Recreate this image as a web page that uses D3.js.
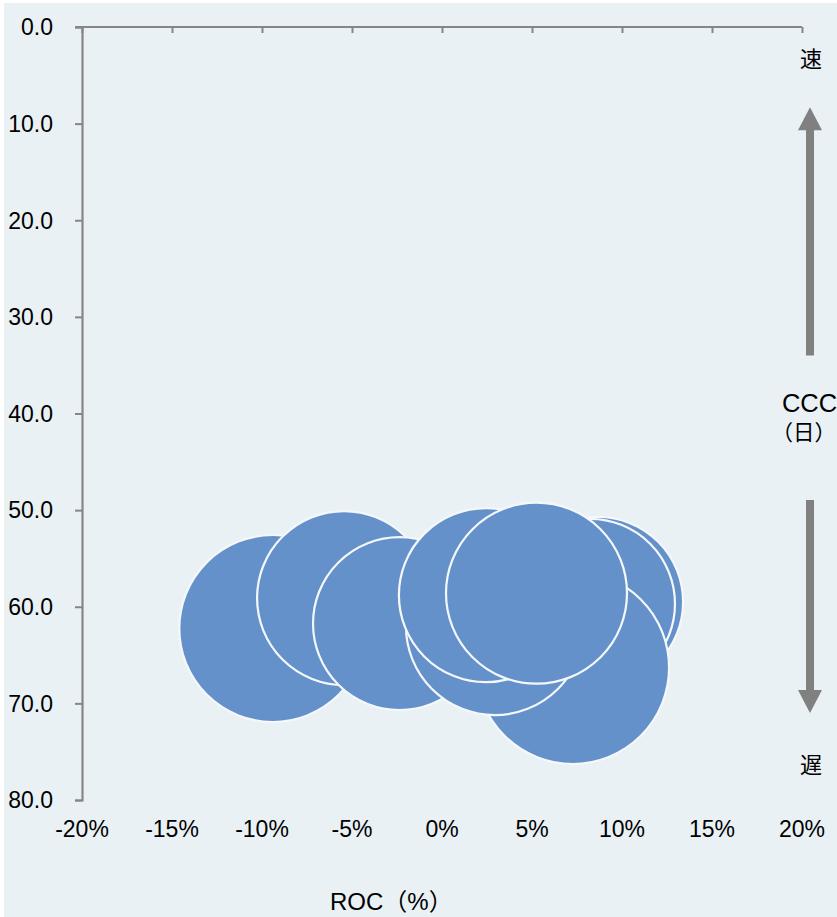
<!DOCTYPE html>
<html>
<head>
<meta charset="utf-8">
<script src="https://cdn.jsdelivr.net/npm/d3@7"></script>
<style>
  html, body { margin: 0; padding: 0; background: #ffffff; }
  svg { display: block; }
  text { font-family: "Liberation Sans", Arial, "Noto Sans CJK JP", sans-serif; fill: #000; }
</style>
</head>
<body>
<svg id="chart" width="837" height="917"></svg>
<script>
// ROC (return on capital, fraction) vs CCC (cash conversion cycle, days); bubble size = relative scale
const roc  = [-0.094, -0.0544, -0.0236, 0.0867, 0.0822, 0.0726, 0.0294, 0.0244, 0.0525];
const ccc  = [62.25, 59.1, 61.74, 59.5, 59.7, 66.3, 62.0, 58.8, 58.6];
const size = [87.4, 75.7, 74.8, 72.3, 72.3, 92.9, 79.2, 75.7, 81.9];

const xTicks = [-0.20, -0.15, -0.10, -0.05, 0, 0.05, 0.10, 0.15, 0.20];
const yTicks = [0, 10, 20, 30, 40, 50, 60, 70, 80];

const W = 837, H = 917;
const svg = d3.select("#chart");

// background panel
svg.append("rect")
  .attr("x", 4).attr("y", 3)
  .attr("width", W - 4).attr("height", H - 3)
  .attr("fill", "#e9f1f5");

const x = d3.scaleLinear().domain([-0.20, 0.20]).range([82, 802]);
const y = d3.scaleLinear().domain([0, 80]).range([27, 800]);
const r = d3.scaleSqrt().domain([0, 100]).range([0, 100]);

const axisColor = "#868686";

// x axis runs along CCC = 0 (top edge), ticks pointing into the plot
const xAxis = svg.append("g")
  .attr("transform", `translate(0,${y(0)})`)
  .call(d3.axisBottom(x).tickValues(xTicks).tickSize(6).tickFormat(""));

// y axis, reversed (0 at top)
const yAxis = svg.append("g")
  .attr("transform", `translate(${x(-0.20)},0)`)
  .call(d3.axisLeft(y).tickValues(yTicks).tickSize(7).tickFormat(""));

[xAxis, yAxis].forEach(g => {
  g.select(".domain").attr("stroke", axisColor).attr("stroke-width", 2.2);
  g.selectAll(".tick line").attr("stroke", axisColor).attr("stroke-width", 2);
});
xAxis.select(".domain").attr("d", `M${x(-0.20) - 7},0H${x(0.20)}`);

// y tick labels
svg.append("g").selectAll("text")
  .data(yTicks)
  .join("text")
  .attr("x", 53)
  .attr("y", d => y(d))
  .attr("dy", "0.36em")
  .attr("text-anchor", "end")
  .attr("font-size", 23)
  .text(d => d3.format(".1f")(d));

// x tick labels, placed below the plot (plain hyphen for negatives)
const pct = d3.formatLocale({ decimal: ".", thousands: ",", grouping: [3], currency: ["", ""], minus: "-" }).format(".0%");
svg.append("g").selectAll("text")
  .data(xTicks)
  .join("text")
  .attr("x", d => x(d))
  .attr("y", 837)
  .attr("text-anchor", "middle")
  .attr("font-size", 23)
  .text(d => pct(d));

// bubbles
const pts = roc.map((v, i) => ({ roc: v, ccc: ccc[i], size: size[i] }));
svg.append("g").selectAll("circle")
  .data(pts)
  .join("circle")
  .attr("cx", d => x(d.roc))
  .attr("cy", d => y(d.ccc))
  .attr("r", d => r(d.size))
  .attr("fill", "#6591cb")
  .attr("stroke", "#f4f8fb")
  .attr("stroke-width", 2.2);

// horizontal axis title
svg.append("text").attr("x", 330).attr("y", 910).attr("font-size", 24).text("ROC（%）");

// vertical axis title and direction labels
const ax = 810;
svg.append("text").attr("x", ax + 1).attr("y", y(3.3)).attr("dy", "0.36em")
  .attr("text-anchor", "middle").attr("font-size", 22).text("速");
svg.append("text").attr("x", ax + 1).attr("y", y(76.4)).attr("dy", "0.36em")
  .attr("text-anchor", "middle").attr("font-size", 22).text("遅");
svg.append("text").attr("x", 809.5).attr("y", 412)
  .attr("text-anchor", "middle").attr("font-size", 25.5).text("CCC");
svg.append("text").attr("x", 836).attr("y", 440)
  .attr("text-anchor", "end").attr("font-size", 21.5).text("（日）");

// direction arrows: up = faster, down = slower
function arrow(from, to) {
  const y0 = y(from), y1 = y(to);
  const dir = Math.sign(y1 - y0);
  const headLen = 23, headHalf = 12, shaftHalf = 4;
  const yb = y1 - dir * headLen;
  const path = `M${ax - shaftHalf},${y0}L${ax - shaftHalf},${yb}L${ax - headHalf},${yb}` +
               `L${ax},${y1}L${ax + headHalf},${yb}L${ax + shaftHalf},${yb}L${ax + shaftHalf},${y0}Z`;
  svg.append("path").attr("d", path).attr("fill", "#808080");
}
arrow(34.0, 8.3);
arrow(48.95, 71.0);
</script>
</body>
</html>
